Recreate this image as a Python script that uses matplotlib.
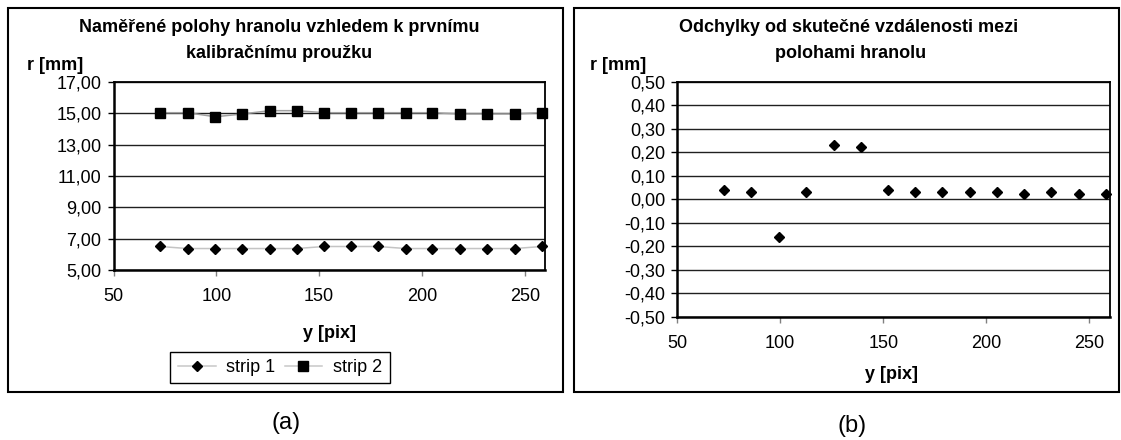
import matplotlib
matplotlib.use('Agg')
import matplotlib.pyplot as plt
from matplotlib.patches import Rectangle
from matplotlib.ticker import FuncFormatter, MultipleLocator

plt.rcParams['font.family'] = ['Liberation Sans', 'DejaVu Sans']

# hodnoty
y_pix = [72.7, 86.0, 99.5, 112.7, 126.0, 139.0, 152.4, 165.6, 178.6, 192.2, 205.0, 218.5, 231.5, 245.0, 258.3]
strip1 = [6.50, 6.37, 6.37, 6.37, 6.37, 6.37, 6.50, 6.50, 6.50, 6.37, 6.37, 6.37, 6.37, 6.37, 6.50]
strip2 = [15.04, 15.04, 14.78, 14.96, 15.17, 15.17, 15.04, 15.04, 15.04, 15.04, 15.04, 14.96, 14.96, 14.96, 15.04]
odchylky = [0.04, 0.03, -0.16, 0.03, 0.23, 0.22, 0.04, 0.03, 0.03, 0.03, 0.03, 0.02, 0.03, 0.02, 0.02]
r_ticks = [5, 7, 9, 11, 13, 15, 17]

W, H = 1121, 440
fig = plt.figure(figsize=(W / 100, H / 100), dpi=100)

FS_TICK = 13
FS_BOLD = 13


def px(x0, y0, x1, y1):
    # obdélník v pixelech -> souřadnice figury
    return [x0 / W, 1 - y1 / H, (x1 - x0) / W, (y1 - y0) / H]


def carka(v, pos):
    return f'{v:.2f}'.replace('.', ',')


def styl_os(ax):
    for s in ax.spines.values():
        s.set_color('black')
        s.set_linewidth(1.3)
    ax.spines['left'].set_linewidth(1.8)
    ax.spines['bottom'].set_linewidth(1.8)
    ax.grid(axis='y', color='#202020', linewidth=1.0)
    ax.set_axisbelow(True)
    ax.tick_params(axis='y', direction='out', length=4, width=1, pad=4.7, labelsize=FS_TICK)
    ax.tick_params(axis='x', direction='out', length=4, width=1, color='#808080', pad=9, labelsize=FS_TICK)
    ax.yaxis.set_major_formatter(FuncFormatter(carka))
    ax.set_xlim(50, 260)
    ax.xaxis.set_major_locator(MultipleLocator(50))


# rámečky grafů
fig.patches.append(Rectangle((7.5 / W, 1 - 392 / H), 555.5 / W, 384 / H, transform=fig.transFigure,
                             fill=False, ec='black', lw=1.5))
fig.patches.append(Rectangle((574 / W, 1 - 392 / H), 545 / W, 384 / H, transform=fig.transFigure,
                             fill=False, ec='black', lw=1.5))

# (a)
ax1 = fig.add_axes(px(113.5, 82, 545.4, 270))
styl_os(ax1)
l1, = ax1.plot(y_pix, strip1, color='#c4c4c4', lw=1.1, marker='D', ms=5.2, mfc='black', mec='black',
               label='strip 1', clip_on=False, zorder=3)
l2, = ax1.plot(y_pix, strip2, color='#a0a0a0', lw=1.1, marker='s', ms=7, mfc='black', mec='black',
               label='strip 2', clip_on=False, zorder=3)
ax1.set_ylim(5, 17)
ax1.set_yticks(r_ticks)
ax1.set_xlabel('y [pix]', fontsize=FS_BOLD, fontweight='bold')
ax1.xaxis.set_label_coords(0.499, -0.34)
ax1.xaxis.label.set_va('center')

fig.text(279 / W, 1 - 27 / H, 'Naměřené polohy hranolu vzhledem k prvnímu', ha='center', va='center',
         fontsize=FS_BOLD, fontweight='bold')
fig.text(279 / W, 1 - 54 / H, 'kalibračnímu proužku', ha='center', va='center',
         fontsize=FS_BOLD, fontweight='bold')
fig.text(27 / W, 1 - 65 / H, 'r [mm]', ha='left', va='center', fontsize=FS_BOLD, fontweight='bold')

leg = fig.legend(handles=[l1, l2], loc='center', bbox_to_anchor=(280 / W, 1 - 367.5 / H), ncol=2,
                 frameon=True, fancybox=False, edgecolor='black', framealpha=1, fontsize=FS_BOLD,
                 handlelength=2.1, handletextpad=0.6, columnspacing=0.5, borderpad=0.4)
leg.get_frame().set_linewidth(1.0)
for h in leg.legend_handles:
    h.set_color('#c8c8c8')
    h.set_markerfacecolor('black')
    h.set_markeredgecolor('black')

# (b)
ax2 = fig.add_axes(px(677.1, 81.7, 1110, 316.7))
styl_os(ax2)
ax2.plot(y_pix, odchylky, linestyle='none', marker='D', ms=5.4, mfc='black', mec='black',
         clip_on=False, zorder=3)
ax2.set_ylim(-0.5, 0.5)
ax2.yaxis.set_major_locator(MultipleLocator(0.1))
ax2.set_xlabel('y [pix]', fontsize=FS_BOLD, fontweight='bold')
ax2.xaxis.set_label_coords(0.496, -0.248)
ax2.xaxis.label.set_va('center')

fig.text(849 / W, 1 - 27 / H, 'Odchylky od skutečné vzdálenosti mezi', ha='center', va='center',
         fontsize=FS_BOLD, fontweight='bold')
fig.text(851 / W, 1 - 54 / H, 'polohami hranolu', ha='center', va='center',
         fontsize=FS_BOLD, fontweight='bold')
fig.text(590 / W, 1 - 65 / H, 'r [mm]', ha='left', va='center', fontsize=FS_BOLD, fontweight='bold')

fig.text(286 / W, 1 - 423 / H, '(a)', ha='center', va='center', fontsize=17)
fig.text(852 / W, 1 - 426 / H, '(b)', ha='center', va='center', fontsize=17)

fig.savefig('out.png', dpi=100)
